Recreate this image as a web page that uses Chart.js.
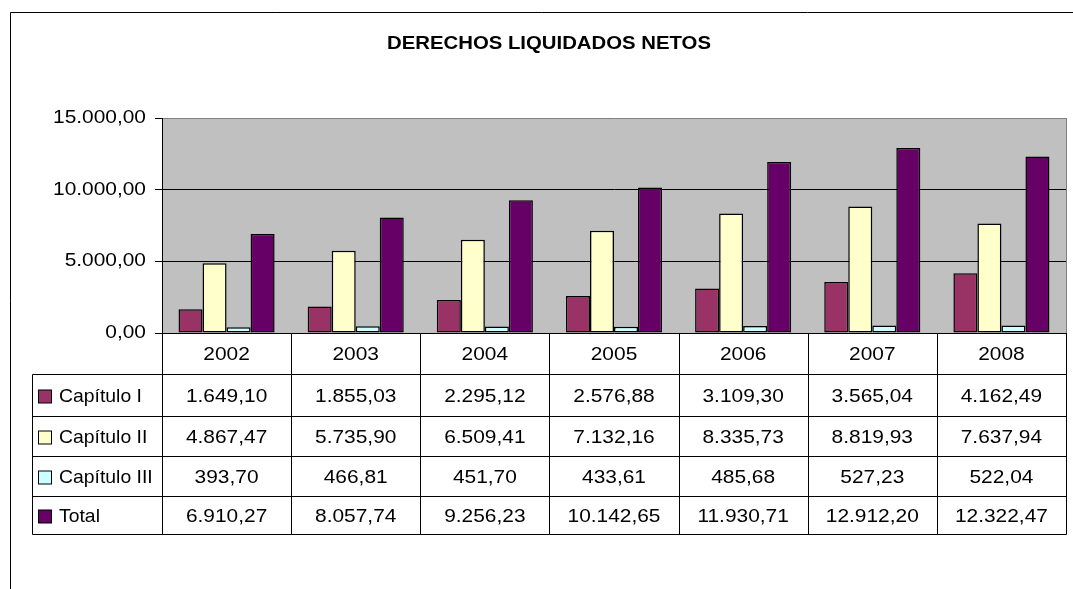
<!DOCTYPE html>
<html>
<head>
<meta charset="utf-8">
<script src="https://cdn.jsdelivr.net/npm/chart.js@4/dist/chart.umd.min.js"></script>
<style>
  html, body { margin: 0; padding: 0; background: #fff; }
  canvas { display: block; }
</style>
</head>
<body>
<canvas id="chart" width="1073" height="589"></canvas>
<script>
const years = ["2002", "2003", "2004", "2005", "2006", "2007", "2008"];
const seriesNames = ["Capítulo I", "Capítulo II", "Capítulo III", "Total"];
const capituloI = [1649.10, 1855.03, 2295.12, 2576.88, 3109.30, 3565.04, 4162.49];
const capituloII = [4867.47, 5735.90, 6509.41, 7132.16, 8335.73, 8819.93, 7637.94];
const capituloIII = [393.70, 466.81, 451.70, 433.61, 485.68, 527.23, 522.04];
const total = [6910.27, 8057.74, 9256.23, 10142.65, 11930.71, 12912.20, 12322.47];
const colors = ["#993366", "#FFFFCC", "#CCFFFF", "#660066"];

const FONT = "Arial, 'Liberation Sans', sans-serif";

// 1234.5 -> "1.234,50"
function fmt(n) {
  const parts = n.toFixed(2).split(".");
  const int = parts[0].replace(/\B(?=(\d{3})+(?!\d))/g, ".");
  return int + "," + parts[1];
}

// text drawn a little wider, like the original
function drawText(ctx, text, x, y, align, font, stretch) {
  const s = stretch || 1.13;
  ctx.save();
  ctx.font = font;
  ctx.textBaseline = "middle";
  ctx.fillStyle = "#000";
  const w = ctx.measureText(text).width * s;
  let x0 = x;
  if (align === "center") x0 = x - w / 2;
  if (align === "right") x0 = x - w;
  ctx.translate(x0, y);
  ctx.scale(s, 1);
  ctx.textAlign = "left";
  ctx.fillText(text, 0, 0);
  ctx.restore();
}

const tablePlugin = {
  id: "tablePlugin",
  beforeDraw(chart) {
    const { ctx, chartArea } = chart;
    ctx.save();
    ctx.fillStyle = "#fff";
    ctx.fillRect(0, 0, chart.width, chart.height);
    ctx.fillStyle = "#C0C0C0";
    ctx.fillRect(chartArea.left, chartArea.top, chartArea.right - chartArea.left, chartArea.bottom - chartArea.top);
    // plot area right border
    ctx.strokeStyle = "#808080";
    ctx.lineWidth = 1;
    ctx.beginPath();
    ctx.moveTo(chartArea.right + 0.5, chartArea.top);
    ctx.lineTo(chartArea.right + 0.5, chartArea.bottom);
    ctx.stroke();
    ctx.restore();
  },
  afterDraw(chart) {
    const { ctx, chartArea } = chart;
    const x = chart.scales.x;
    const y = chart.scales.y;
    const colW = (chartArea.right - chartArea.left) / years.length;

    ctx.save();
    // outer frame (top and left)
    ctx.strokeStyle = "#000";
    ctx.lineWidth = 1;
    ctx.beginPath();
    ctx.moveTo(10.5, chart.height);
    ctx.lineTo(10.5, 12.5);
    ctx.lineTo(chart.width, 12.5);
    ctx.stroke();

    drawText(ctx, "DERECHOS LIQUIDADOS NETOS", 549, 44, "center", "bold 18px " + FONT);

    // y tick labels
    y.ticks.forEach(t => {
      drawText(ctx, fmt(t.value), 146, y.getPixelForValue(t.value), "right", "18.5px " + FONT);
    });

    // data table
    const headTop = chartArea.bottom;
    const tableTop = 374.5;
    const rowLines = [374.5, 416.5, 456.5, 496.5, 534.5];
    const tableLeft = 32.5;

    ctx.strokeStyle = "#000";
    ctx.lineWidth = 1;
    ctx.beginPath();
    rowLines.forEach(ry => {
      ctx.moveTo(tableLeft, ry);
      ctx.lineTo(chartArea.right + 0.5, ry);
    });
    ctx.moveTo(tableLeft, tableTop);
    ctx.lineTo(tableLeft, rowLines[rowLines.length - 1]);
    for (let i = 0; i <= years.length; i++) {
      const bx = Math.round(chartArea.left + i * colW) + 0.5;
      ctx.moveTo(bx, headTop);
      ctx.lineTo(bx, rowLines[rowLines.length - 1]);
    }
    ctx.stroke();

    const font = "18.5px " + FONT;
    years.forEach((yr, i) => {
      drawText(ctx, yr, x.getPixelForValue(i), (headTop + tableTop) / 2 + 1, "center", font);
    });

    chart.data.datasets.forEach((ds, r) => {
      const cy = (rowLines[r] + rowLines[r + 1]) / 2 + 1;
      ctx.fillStyle = ds.backgroundColor;
      ctx.fillRect(38.5, cy - 6.5, 13, 13);
      ctx.strokeStyle = "#000";
      ctx.strokeRect(38.5, cy - 6.5, 13, 13);
      drawText(ctx, ds.label, 59, cy, "left", "19px " + FONT, 1.02);
      ds.data.forEach((v, i) => {
        drawText(ctx, fmt(v), x.getPixelForValue(i), cy, "center", font);
      });
    });
    ctx.restore();
  }
};

const seriesData = [capituloI, capituloII, capituloIII, total];

new Chart(document.getElementById("chart"), {
  type: "bar",
  data: {
    labels: years,
    datasets: seriesNames.map((name, i) => ({
      label: name,
      data: seriesData[i],
      backgroundColor: colors[i],
      borderColor: "#000",
      borderWidth: 1.5,
      borderSkipped: false,
      categoryPercentage: 0.744,
      barPercentage: 1.0
    }))
  },
  options: {
    responsive: false,
    animation: false,
    layout: {
      padding: { top: 118, bottom: 256, left: 0, right: 7 }
    },
    scales: {
      x: { display: false },
      y: {
        min: 0,
        max: 15000,
        afterFit(scale) { scale.width = 162; },
        ticks: { stepSize: 5000, display: false },
        border: { color: "#000", width: 1 },
        grid: {
          color: c => (c.tick && c.tick.value === 15000 ? "#808080" : "#000"),
          tickColor: "#000",
          tickLength: 7,
          lineWidth: 1
        }
      }
    },
    plugins: {
      legend: { display: false },
      tooltip: { enabled: false }
    }
  },
  plugins: [tablePlugin]
});
</script>
</body>
</html>
